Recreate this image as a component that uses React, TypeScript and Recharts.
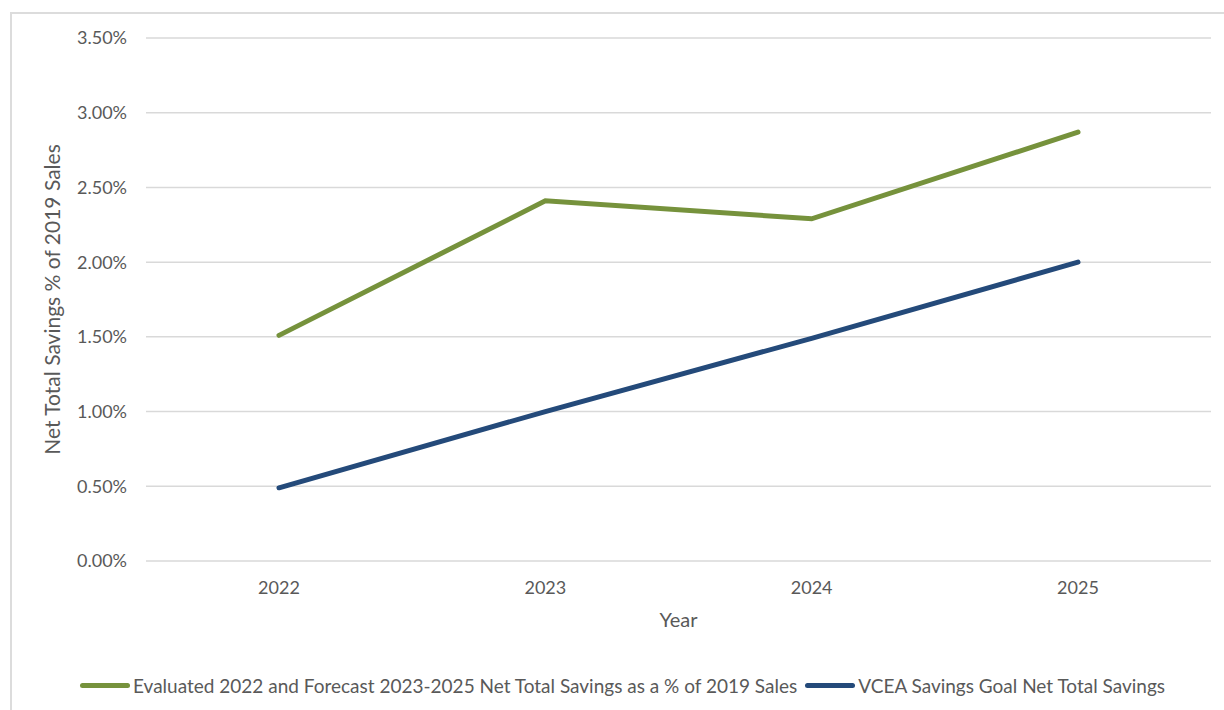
import { CartesianGrid, Legend, Line, LineChart, XAxis, YAxis } from "recharts"

const years = ["2022", "2023", "2024", "2025"]
const evaluated = [1.51, 2.41, 2.29, 2.87]
const goal = [0.49, 1.0, 1.49, 2.0]
const yTicks = [0, 0.5, 1, 1.5, 2, 2.5, 3, 3.5]

const GREEN_NAME = "Evaluated 2022 and Forecast 2023-2025 Net Total Savings as a % of 2019 Sales"
const BLUE_NAME = "VCEA Savings Goal Net Total Savings"

const data = years.map((year, i) => ({
  year,
  evaluated: evaluated[i],
  goal: goal[i],
}))

const FONT = "Lato, 'Open Sans', sans-serif"
const TEXT = "#595959"

const LegendContent = () => (
  <div
    style={{
      height: 40,
      display: "flex",
      alignItems: "center",
      paddingLeft: 80,
      fontFamily: FONT,
      fontSize: 19,
      color: TEXT,
      whiteSpace: "nowrap",
    }}
  >
    <span style={{ display: "inline-block", width: 50, height: 5, borderRadius: 3, background: "#76923c", marginRight: 3 }} />
    <span>{GREEN_NAME}</span>
    <span style={{ display: "inline-block", width: 50, height: 5, borderRadius: 3, background: "#244a7a", marginLeft: 8, marginRight: 3 }} />
    <span>{BLUE_NAME}</span>
  </div>
)

export default function App() {
  return (
    <div style={{ position: "absolute", left: 0, top: 0, width: 1224, height: 710, background: "#fff", overflow: "hidden" }}>
      <div
        style={{
          position: "absolute",
          left: 10,
          top: 12,
          width: 1240,
          height: 720,
          border: "2px solid #dcdcdc",
        }}
      />
      <LineChart
        width={1224}
        height={710}
        data={data}
        margin={{ top: 38, right: 13, left: 0, bottom: 39 }}
        style={{ fontFamily: FONT }}
      >
        <CartesianGrid vertical={false} stroke="#d9d9d9" strokeWidth={1.5} />
        <XAxis
          dataKey="year"
          axisLine={false}
          tickLine={false}
          tickSize={0}
          tickMargin={20}
          height={70}
          padding={{ left: 133, right: 133 }}
          tick={{ fill: TEXT, fontSize: 18 }}
          label={{ value: "Year", position: "insideBottom", offset: 4, fill: TEXT, fontSize: 20 }}
        />
        <YAxis
          domain={[0, 3.5]}
          ticks={yTicks}
          interval={0}
          axisLine={false}
          tickLine={false}
          tickSize={0}
          tickMargin={19}
          width={146}
          tick={{ fill: TEXT, fontSize: 18 }}
          tickFormatter={(v) => `${Number(v).toFixed(2)}%`}
          label={{ value: "Net Total Savings % of 2019 Sales", angle: -90, position: "center", dx: -20, fill: TEXT, fontSize: 21 }}
        />
        <Legend verticalAlign="bottom" content={<LegendContent />} wrapperStyle={{ left: 0, top: 665, width: 1224 }} />
        <Line
          type="linear"
          dataKey="evaluated"
          name={GREEN_NAME}
          stroke="#76923c"
          strokeWidth={5}
          strokeLinecap="round"
          dot={false}
          isAnimationActive={false}
        />
        <Line
          type="linear"
          dataKey="goal"
          name={BLUE_NAME}
          stroke="#244a7a"
          strokeWidth={5}
          strokeLinecap="round"
          dot={false}
          isAnimationActive={false}
        />
      </LineChart>
    </div>
  )
}
